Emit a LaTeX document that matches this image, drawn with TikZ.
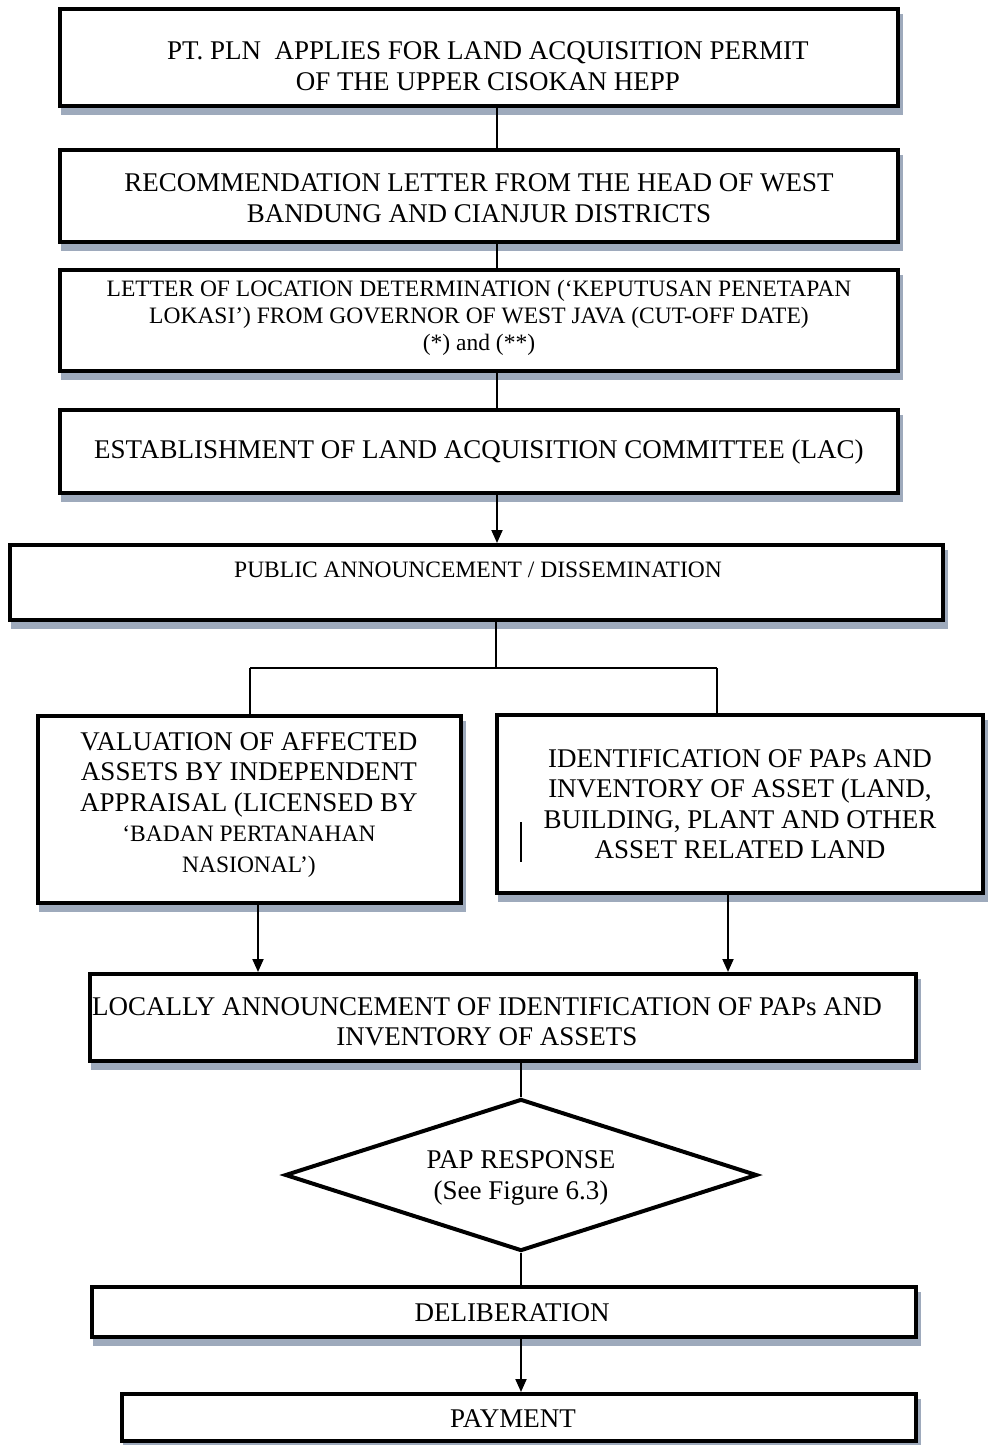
\documentclass[tikz,border=0pt]{standalone}
\usepackage{fontspec}
\setmainfont{Liberation Serif}
\usetikzlibrary{arrows.meta,shapes.geometric,shadows}
\definecolor{shadowc}{RGB}{158,170,188}
\begin{document}
\begin{tikzpicture}[x=1pt,y=-1pt,
  stepbox/.style={draw=black,line width=4pt,fill=white,rectangle,inner sep=0pt,
    general shadow={fill=shadowc,draw=shadowc,line width=4pt,shadow xshift=3pt,shadow yshift=-7pt}},
  decision/.style={draw=black,line width=4pt,fill=white,diamond,inner sep=0pt},
  bigtext/.style={align=center,inner sep=0pt,font=\fontsize{27}{30.5}\selectfont},
  smalltext/.style={align=center,inner sep=0pt,font=\fontsize{23.5}{27}\selectfont},
  link/.style={line width=2pt},
  arrowlink/.style={line width=2pt,-{Triangle[width=11pt,length=13pt]}}]
\useasboundingbox (0,0) rectangle (988,1445);
% process boxes
\node[stepbox,minimum width=838pt,minimum height=97pt] (b1) at (479,57.5) {};
\node[stepbox,minimum width=838pt,minimum height=92pt] (b2) at (479,196) {};
\node[stepbox,minimum width=838pt,minimum height=101pt] (b3) at (479,320.5) {};
\node[stepbox,minimum width=838pt,minimum height=83pt] (b4) at (479,451.5) {};
\node[stepbox,minimum width=933pt,minimum height=75pt] (b5) at (476.5,582.5) {};
\node[stepbox,minimum width=423pt,minimum height=187pt] (bl) at (249.5,809.5) {};
\node[stepbox,minimum width=486pt,minimum height=178pt] (br) at (740,804) {};
\node[stepbox,minimum width=826pt,minimum height=87pt] (b8) at (503,1017.5) {};
\node[decision,minimum width=472pt,minimum height=152pt] (dia) at (521,1175) {};
\node[stepbox,minimum width=824pt,minimum height=50pt] (del) at (504,1312) {};
\node[stepbox,minimum width=794pt,minimum height=47pt] (pay) at (519,1417.5) {};
% texts
\node[bigtext] (t1) at (488,66) {PT. PLN\ \ APPLIES FOR LAND ACQUISITION PERMIT\\OF THE UPPER CISOKAN HEPP};
\node[bigtext] (t2) at (479,198) {RECOMMENDATION LETTER FROM THE HEAD OF WEST\\BANDUNG AND CIANJUR DISTRICTS};
\node[smalltext] (t3) at (479,318) {LETTER OF LOCATION DETERMINATION (‘KEPUTUSAN PENETAPAN\\LOKASI’) FROM GOVERNOR OF WEST JAVA (CUT-OFF DATE)\\(*) and (**)};
\node[bigtext] (t4) at (479,452) {ESTABLISHMENT OF LAND ACQUISITION COMMITTEE (LAC)};
\node[smalltext] (t5) at (478,570) {PUBLIC ANNOUNCEMENT / DISSEMINATION};
\node[bigtext] (tl) at (249,805) {VALUATION OF AFFECTED\\ASSETS BY INDEPENDENT\\APPRAISAL (LICENSED BY\\{\fontsize{23.5}{30.5}\selectfont ‘BADAN PERTANAHAN}\\{\fontsize{23.5}{30.5}\selectfont NASIONAL’)}};
\node[bigtext] (tr) at (740,804) {IDENTIFICATION OF PAPs AND\\INVENTORY OF ASSET (LAND,\\BUILDING, PLANT AND OTHER\\ASSET RELATED LAND};
\node[bigtext] (t8) at (487,1022) {LOCALLY ANNOUNCEMENT OF IDENTIFICATION OF PAPs AND\\INVENTORY OF ASSETS};
\node[bigtext] (td) at (521,1178) {PAP RESPONSE\\(See Figure 6.3)};
\node[bigtext] (tdel) at (512,1313) {DELIBERATION};
\node[bigtext] (tpay) at (513,1419) {PAYMENT};
% stray bar inside the identification box
\coordinate (barTop) at (521,822);
\coordinate (barBot) at (521,862);
\draw[line width=1.5pt] (barTop) -- (barBot);
% connector columns
\coordinate (xa) at (497,0);
\coordinate (split) at (496,668);
\coordinate (splitL) at (250,668);
\coordinate (splitR) at (717,668);
\coordinate (xl) at (258,0);
\coordinate (xr) at (728,0);
\coordinate (xd) at (521,0);
% connectors
\draw[link] (b1.south -| xa) -- (b2.north -| xa);
\draw[link] (b2.south -| xa) -- (b3.north -| xa);
\draw[link] (b3.south -| xa) -- (b4.north -| xa);
\draw[arrowlink] (b4.south -| xa) -- (b5.north -| xa);
\draw[link] (b5.south -| split) -- (split);
\draw[link] (splitL) -- (splitR);
\draw[link] (splitL) -- (bl.north -| splitL);
\draw[link] (splitR) -- (br.north -| splitR);
\draw[arrowlink] (bl.south -| xl) -- (b8.north -| xl);
\draw[arrowlink] (br.south -| xr) -- (b8.north -| xr);
\draw[link] (b8.south -| xd) -- (dia.north);
\draw[link] (dia.south) -- (del.north -| xd);
\draw[arrowlink] (del.south -| xd) -- (pay.north -| xd);
\end{tikzpicture}
\end{document}
